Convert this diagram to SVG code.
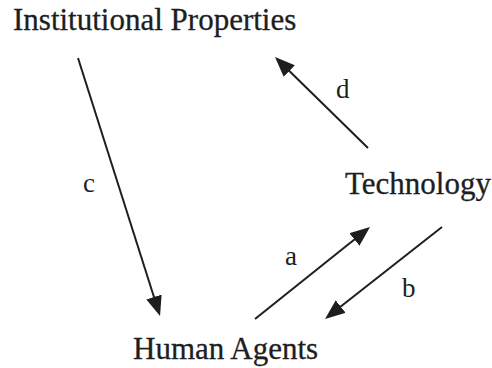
<svg xmlns="http://www.w3.org/2000/svg" width="492" height="368" viewBox="0 0 492 368">
<style>
.node{font-family:"Liberation Serif","Times New Roman",serif;font-size:31px;fill:#1e1e1e;stroke:#1e1e1e;stroke-width:0.3}
.lbl{font-family:"Liberation Serif","Times New Roman",serif;font-size:27px;fill:#1e1e1e}
.edge{stroke:#1e1e1e;stroke-width:2;fill:none;marker-end:url(#ah)}
</style>
<defs>
<marker id="ah" markerUnits="userSpaceOnUse" markerWidth="22" markerHeight="18" refX="6" refY="8" orient="auto">
<path d="M0,0 L20,8 L0,16 z" fill="#1e1e1e"/>
</marker>
</defs>
<rect width="492" height="368" fill="#ffffff"/>
<g id="institutional"><text class="node" x="13" y="30">Institutional Properties</text></g>
<g id="technology"><text class="node" x="345" y="194">Technology</text></g>
<g id="human"><text class="node" x="133" y="359">Human Agents</text></g>
<g id="connectors">
<line class="edge" x1="78" y1="58" x2="155.8" y2="302.7"/>
<line class="edge" x1="368" y1="148" x2="285" y2="66.8"/>
<line class="edge" x1="255" y1="319" x2="359.1" y2="235.7"/>
<line class="edge" x1="442" y1="227" x2="336" y2="310.3"/>
<text class="lbl" x="83" y="192">c</text>
<text class="lbl" x="336" y="98">d</text>
<text class="lbl" x="285" y="265">a</text>
<text class="lbl" x="402" y="297">b</text>
</g>
</svg>
